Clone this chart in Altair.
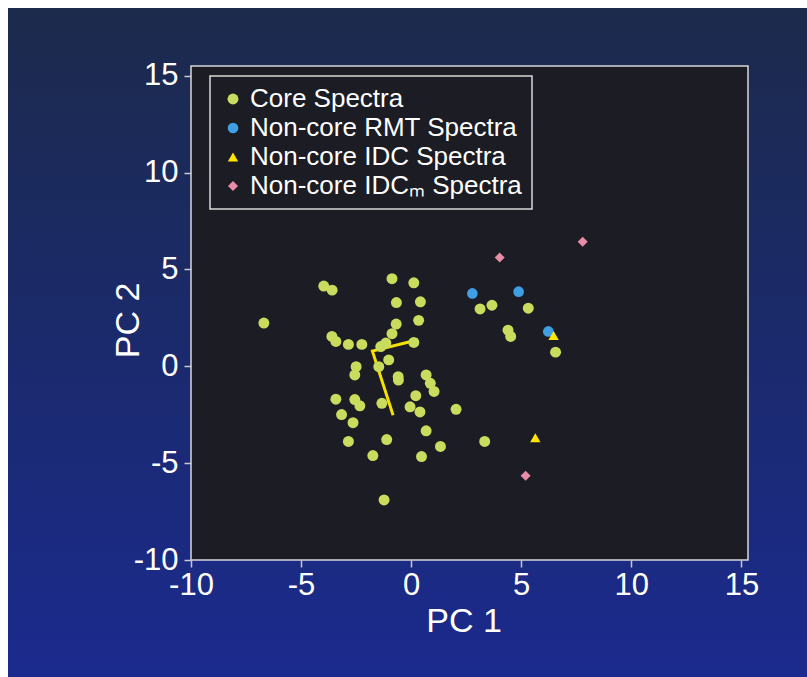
import altair as alt
import pandas as pd

# ---- data ----
core_x = [-3.97, -3.59, -0.87, 0.12, -0.67, 0.42, -0.68, 0.34, -0.87, -3.60,
          -3.42, -2.85, -2.24, -1.38, -1.15, 0.12, -1.02, -1.47, -2.50, -2.56,
          -0.59, -0.58, 0.68, 0.87, 1.04, -3.42, -2.56, -2.33, -1.33, 0.21,
          -0.05, 0.40, 2.04, -3.16, -2.64, 0.68, -2.85, -1.11, 1.33, -1.74,
          0.47, -1.23, 3.34, 3.13, 3.67, 5.32, 4.40, 4.52, 6.56, -6.69]
core_y = [4.14, 3.93, 4.52, 4.31, 3.29, 3.33, 2.18, 2.37, 1.68, 1.54,
          1.28, 1.13, 1.13, 1.02, 1.20, 1.23, 0.33, -0.02, -0.02, -0.45,
          -0.54, -0.71, -0.45, -0.88, -1.30, -1.70, -1.72, -2.04, -1.91, -1.52,
          -2.09, -2.36, -2.22, -2.49, -2.91, -3.33, -3.88, -3.78, -4.14, -4.61,
          -4.66, -6.90, -3.88, 2.96, 3.15, 3.00, 1.86, 1.54, 0.73, 2.23]
rmt_x = [2.78, 4.88, 6.23]
rmt_y = [3.76, 3.85, 1.80]
idc_x = [6.47, 5.64]
idc_y = [1.59, -3.69]
idcm_x = [4.02, 7.79, 5.20]
idcm_y = [5.61, 6.43, -5.65]
vec_x = [0.31, -1.76, -0.82]
vec_y = [1.37, 0.78, -2.53]

series_names = ["Core Spectra", "Non-core RMT Spectra",
                "Non-core IDC Spectra", "Non-core IDCₘ Spectra"]
series_colors = ["#c9dc5e", "#3f9fe2", "#ffe600", "#e98ca6"]
series_shapes = ["circle", "circle", "triangle-up", "diamond"]
series_sizes = [120, 100, 120, 75]
x_ticks = [-10, -5, 0, 5, 10, 15]
y_ticks = [-10, -5, 0, 5, 10, 15]

rows = []
for name, xs_, ys_ in zip(series_names,
                          [core_x, rmt_x, idc_x, idcm_x],
                          [core_y, rmt_y, idc_y, idcm_y]):
    for a, b in zip(xs_, ys_):
        rows.append({"PC1": a, "PC2": b, "series": name})
pts = pd.DataFrame(rows)
vec = pd.DataFrame({"PC1": vec_x, "PC2": vec_y, "order": list(range(len(vec_x)))})
dummy = pd.DataFrame({"k": [0]})

W, H = 557, 494
PAD_L, PAD_T, PAD_R, PAD_B = 191, 66, 59, 117
FONT = "Liberation Sans"

xs = alt.Scale(domain=[-10, 15.3], nice=False, zero=False)
ys = alt.Scale(domain=[-10, 15.5], nice=False, zero=False)

grad = alt.Gradient(
    gradient="linear",
    stops=[alt.GradientStop(color="#1c2a4c", offset=0),
           alt.GradientStop(color="#1b2a6c", offset=0.5),
           alt.GradientStop(color="#1b2a8e", offset=1)],
    x1=0, x2=0, y1=0, y2=1)

bg = alt.Chart(dummy).mark_rect(fill=grad, clip=False).encode(
    x=alt.value(8 - PAD_L), x2=alt.value(807 - PAD_L),
    y=alt.value(8 - PAD_T), y2=alt.value(677 - PAD_T))

panel = alt.Chart(dummy).mark_rect(fill="#1b1c24", stroke="#d8d8d8",
                                   strokeWidth=1.5).encode(
    x=alt.value(0), x2=alt.value(W), y=alt.value(0), y2=alt.value(H))

xaxis = alt.Axis(values=x_ticks, title="PC 1", domain=False, grid=False,
                 labelExpr="toString(datum.value)", labelFlush=False,
                 tickColor="#c8c8d0", tickSize=7, tickWidth=1.5,
                 labelColor="white", labelFont=FONT, labelFontSize=31,
                 labelPadding=3, titleColor="white", titleFont=FONT,
                 titleFontSize=34, titleFontWeight="normal",
                 titleBaseline="alphabetic", titleY=71, titleX=W / 2 - 6,
                 zindex=1)
yaxis = alt.Axis(values=y_ticks, title="PC 2", domain=False, grid=False,
                 labelExpr="toString(datum.value)", labelFlush=False,
                 tickColor="#c8c8d0", tickSize=7, tickWidth=1.5,
                 labelColor="white", labelFont=FONT, labelFontSize=31,
                 labelPadding=6, titleColor="white", titleFont=FONT,
                 titleFontSize=34, titleFontWeight="normal",
                 titleBaseline="alphabetic", titleX=-53, titleY=H / 2 + 7,
                 zindex=1)

line = alt.Chart(vec).mark_line(color="#f5e000", strokeWidth=3).encode(
    x=alt.X("PC1:Q", scale=xs, axis=xaxis),
    y=alt.Y("PC2:Q", scale=ys, axis=yaxis),
    order="order:O")

points = alt.Chart(pts).mark_point(filled=True, opacity=1).encode(
    x=alt.X("PC1:Q", scale=xs, axis=xaxis),
    y=alt.Y("PC2:Q", scale=ys, axis=yaxis),
    color=alt.Color("series:N",
                    scale=alt.Scale(domain=series_names, range=series_colors),
                    legend=alt.Legend(title=None)),
    shape=alt.Shape("series:N",
                    scale=alt.Scale(domain=series_names, range=series_shapes),
                    legend=alt.Legend(title=None)),
    size=alt.Size("series:N",
                  scale=alt.Scale(domain=series_names, range=series_sizes),
                  legend=None))

chart = alt.layer(bg, panel, line, points).properties(
    width=W, height=H,
    autosize=alt.AutoSizeParams(type="none"),
    padding={"left": PAD_L, "top": PAD_T, "right": PAD_R, "bottom": PAD_B},
).configure(background="white").configure_view(stroke=None).configure_legend(
    orient="none", legendX=19, legendY=10,
    fillColor="#1b1c24", strokeColor="#d8d8d8", strokeWidth=1.5,
    padding=10, rowPadding=3, labelColor="white", labelFont=FONT,
    labelFontSize=26, labelOffset=4, symbolSize=70, symbolOffset=0,
    symbolStrokeWidth=0, labelLimit=400)

chart.save("out.html", embed_options={"renderer": "svg", "actions": False})
